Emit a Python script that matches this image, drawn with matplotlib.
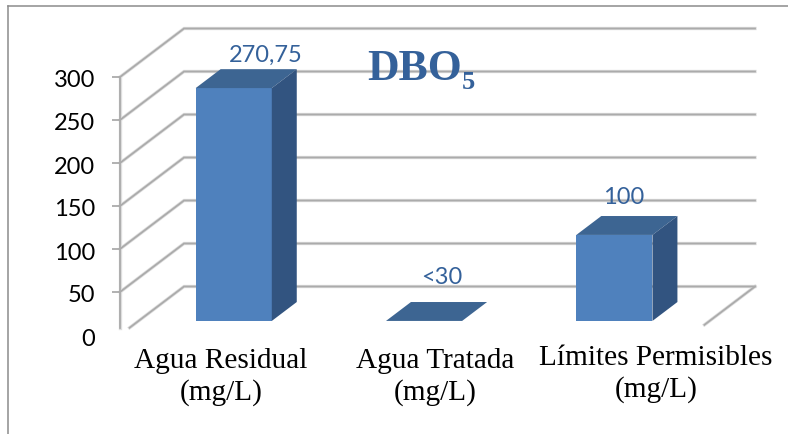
"""3D-looking column chart of DBO5 drawn on a flat matplotlib axes."""
import matplotlib
matplotlib.use("Agg")
import matplotlib.pyplot as plt
from matplotlib.font_manager import FontProperties
from matplotlib.lines import Line2D
from matplotlib.transforms import ScaledTranslation

categories = ["Agua Residual\n(mg/L)", "Agua Tratada\n(mg/L)", "Límites Permisibles\n(mg/L)"]
values = [270.75, 0, 100]
value_labels = ["270,75", "<30", "100"]
y_ticks = [0, 50, 100, 150, 200, 250, 300]

W, H = 788, 434
GRID = "#ABABAB"
GRID_HALO = "#DEDEDE"
FRONT = "#4F81BD"
SIDE = "#325480"
TOP = "#3D6592"
BLUE = "#34619A"

# Oblique projection: depth 1 moves a point to the back wall.
DEPTH_X = 64 / 190.3
DEPTH_Y = 48.5 / 0.86
BAR_D0 = 0.29
BAR_D1 = 0.68
BAR_W = 0.4


def px(x, y):
    return x / W, 1 - y / H


def project(x, y, d):
    return x + DEPTH_X * d, y + DEPTH_Y * d


def grid_line(ax, xs, ys):
    # the reference is a resampled bitmap, so lines have a soft edge
    ax.plot(xs, ys, color=GRID_HALO, lw=2.4, clip_on=False, zorder=1, solid_joinstyle="miter")
    ax.plot(xs, ys, color=GRID, lw=1.3, clip_on=False, zorder=1.1, solid_joinstyle="miter")


sans = FontProperties(family="Lato", style="normal", weight="regular", size=17)

fig = plt.figure(figsize=(W / 100, H / 100), dpi=100)
ax = fig.add_axes([120 / W, 1 - 335 / H, 571 / W, 258 / H])
ax.set_xlim(0, 3)
ax.set_ylim(0, 300)
ax.patch.set_visible(False)
for spine in ax.spines.values():
    spine.set_visible(False)

# Walls and floor
for v in y_ticks:
    d_start = 0.15 if v == 0 else 0
    x0, y0 = project(0, v, d_start)
    x1, y1 = project(0, v, 1)
    x2, y2 = project(3, v, 1)
    grid_line(ax, [x0, x1, x2], [y0, y1, y2])
x0, y0 = project(3, 0, 1)
x1, y1 = project(3, 0, 0.21)
grid_line(ax, [x0, x1], [y0, y1])
grid_line(ax, [0, 0], [8, 300])

# Columns
centers = [i + 0.5 for i in range(len(values))]
for c, v in zip(centers, values):
    left, right = c - BAR_W / 2, c + BAR_W / 2
    fx, fy = project(left, 0, BAR_D0)
    ax.bar(fx, v, width=BAR_W, bottom=fy, align="edge", color=FRONT, zorder=3, clip_on=False)
    top = [project(left, v, BAR_D0), project(right, v, BAR_D0),
           project(right, v, BAR_D1), project(left, v, BAR_D1)]
    ax.fill(*zip(*top), color=TOP, lw=0, zorder=3, clip_on=False)
    if v > 0:
        side = [project(right, 0, BAR_D0), project(right, v, BAR_D0),
                project(right, v, BAR_D1), project(right, 0, BAR_D1)]
        ax.fill(*zip(*side), color=SIDE, lw=0, zorder=3, clip_on=False)

# Value labels, placed by hand in the original
label_offsets = [(32, 26), (18, 37), (9, 31)]
for c, v, text, (ox, oy) in zip(centers, values, value_labels, label_offsets):
    x, y = project(c, v, BAR_D0)
    ax.annotate(text, (x, y), xytext=(ox, oy), textcoords="offset pixels", ha="center",
                va="baseline", color=BLUE, fontproperties=sans, zorder=5,
                annotation_clip=False)

ax.set_yticks(y_ticks)
ax.set_yticklabels([str(v) for v in y_ticks], fontproperties=sans, color="black")
ax.tick_params(axis="y", length=5.8, width=1.3, color=GRID, pad=12)
ax.yaxis.get_ticklines()[0].set_visible(False)
shift = ScaledTranslation(0, -2 / 100, fig.dpi_scale_trans)
for lbl in ax.get_yticklabels():
    lbl.set_transform(lbl.get_transform() + shift)
ax.set_xticks([])

# Category labels were pasted over the chart as text boxes
label_pos = [(221, 377), (435, 377), (656, 374)]
for text, (x, y) in zip(categories, label_pos):
    tx, ty = px(x, y)
    fig.text(tx, ty, text, ha="center", va="center", family="Liberation Serif", fontsize=21.1,
             color="black", linespacing=1.25)

# Title
tx, ty = px(367, 80)
fig.text(tx, ty, "DBO", family="Liberation Serif", weight="bold", fontsize=31.5, color=BLUE,
         va="baseline", zorder=6)
tx, ty = px(462, 89)
fig.text(tx, ty, "5", family="Liberation Serif", weight="bold", fontsize=19, color=BLUE,
         va="baseline", zorder=6)

# Picture frame
fx, fy = px(7.5, 5.5)
fig.add_artist(Line2D([fx, fx], [0, fy], color="#8C8C8C", lw=1.1))
fig.add_artist(Line2D([fx, 1], [fy, fy], color="#8C8C8C", lw=1.1))

fig.savefig("out.png", dpi=100, facecolor="white")
